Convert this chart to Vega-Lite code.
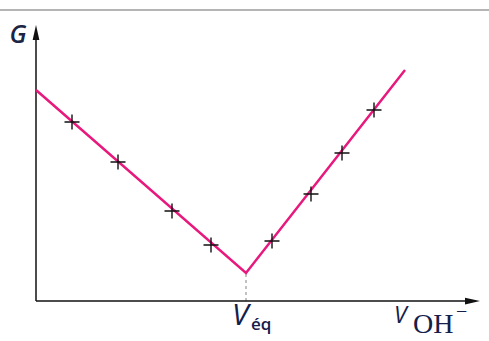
{
  "$schema": "https://vega.github.io/schema/vega-lite/v6.json",
  "width": 444,
  "height": 276,
  "autosize": {"type": "none"},
  "padding": {"left": 36, "top": 25, "right": 9, "bottom": 40},
  "background": "white",
  "config": {"view": {"stroke": null}},
  "datasets": {
    "fit": [
      {"v": 0, "g": 211},
      {"v": 210, "g": 28},
      {"v": 369, "g": 231}
    ],
    "measures": [
      {"v": 36, "g": 179},
      {"v": 82, "g": 139},
      {"v": 136, "g": 90},
      {"v": 175, "g": 56},
      {"v": 236, "g": 60},
      {"v": 275, "g": 107},
      {"v": 306, "g": 148},
      {"v": 338, "g": 191}
    ],
    "axes": [
      {"v": 0, "g": 0, "v2": 437, "g2": 0},
      {"v": 0, "g": 0, "v2": 0, "g2": 269}
    ],
    "topline": [{"v": -36, "g": 291, "v2": 453, "g2": 291}],
    "eqline": [{"v": 210, "g": 0, "v2": 210, "g2": 27}],
    "xarrow": [{"v": 436.5, "g": 0}],
    "yarrow": [{"v": 0, "g": 268.5}],
    "labG": [{"v": -18, "g": 258, "t": "G"}],
    "labVeq": [{"v": 196, "g": -24, "t": "V"}],
    "labVoh": [{"v": 358, "g": -22, "t": "V"}],
    "labEq": [{"v": 215, "g": -29, "t": "éq"}],
    "labOH": [{"v": 377, "g": -32, "t": "OH"}],
    "labMinus": [{"v": 420, "g": -11, "t": "−"}]
  },
  "encoding": {
    "x": {"field": "v", "type": "quantitative", "scale": {"domain": [0, 444], "nice": false, "zero": false}, "axis": null},
    "y": {"field": "g", "type": "quantitative", "scale": {"domain": [0, 276], "nice": false, "zero": false}, "axis": null}
  },
  "layer": [
    {
      "data": {"name": "topline"},
      "mark": {"type": "rule", "color": "#b4b4b4", "strokeWidth": 2},
      "encoding": {"x2": {"field": "v2"}, "y2": {"field": "g2"}}
    },
    {
      "data": {"name": "eqline"},
      "mark": {"type": "rule", "color": "#999999", "strokeWidth": 1.2, "strokeDash": [3, 3]},
      "encoding": {"x2": {"field": "v2"}, "y2": {"field": "g2"}}
    },
    {
      "data": {"name": "axes"},
      "mark": {"type": "rule", "color": "#111111", "strokeWidth": 1.5},
      "encoding": {"x2": {"field": "v2"}, "y2": {"field": "g2"}}
    },
    {
      "data": {"name": "xarrow"},
      "mark": {"type": "point", "shape": "M-1,-0.45L1,0L-1,0.45Z", "filled": true, "color": "#111111", "size": 225, "opacity": 1}
    },
    {
      "data": {"name": "yarrow"},
      "mark": {"type": "point", "shape": "M-0.45,1L0,-1L0.45,1Z", "filled": true, "color": "#111111", "size": 225, "opacity": 1}
    },
    {
      "data": {"name": "fit"},
      "mark": {"type": "line", "color": "#e8197d", "strokeWidth": 2.5}
    },
    {
      "data": {"name": "measures"},
      "mark": {"type": "point", "shape": "M-1,0L1,0M0,-1L0,1", "filled": false, "stroke": "#111111", "strokeWidth": 1.4, "size": 225, "opacity": 1}
    },
    {
      "data": {"name": "labG"},
      "mark": {"type": "text", "font": "Open Sans", "fontSize": 25, "fontStyle": "italic", "fontWeight": 600, "color": "#1b2544", "align": "center", "baseline": "alphabetic"},
      "encoding": {"text": {"field": "t"}}
    },
    {
      "data": {"name": "labVeq"},
      "mark": {"type": "text", "font": "Open Sans", "fontSize": 30, "fontStyle": "italic", "color": "#14204a", "align": "left", "baseline": "alphabetic"},
      "encoding": {"text": {"field": "t"}}
    },
    {
      "data": {"name": "labVoh"},
      "mark": {"type": "text", "font": "Open Sans", "fontSize": 23, "fontStyle": "italic", "color": "#14204a", "align": "left", "baseline": "alphabetic"},
      "encoding": {"text": {"field": "t"}}
    },
    {
      "data": {"name": "labEq"},
      "mark": {"type": "text", "font": "Open Sans", "fontSize": 17, "fontWeight": 600, "color": "#14204a", "align": "left", "baseline": "alphabetic"},
      "encoding": {"text": {"field": "t"}}
    },
    {
      "data": {"name": "labOH"},
      "mark": {"type": "text", "font": "Liberation Serif", "fontSize": 28, "color": "#14204a", "align": "left", "baseline": "alphabetic"},
      "encoding": {"text": {"field": "t"}}
    },
    {
      "data": {"name": "labMinus"},
      "mark": {"type": "text", "font": "Liberation Serif", "fontSize": 20, "color": "#14204a", "align": "left", "baseline": "middle"},
      "encoding": {"text": {"field": "t"}}
    }
  ]
}
